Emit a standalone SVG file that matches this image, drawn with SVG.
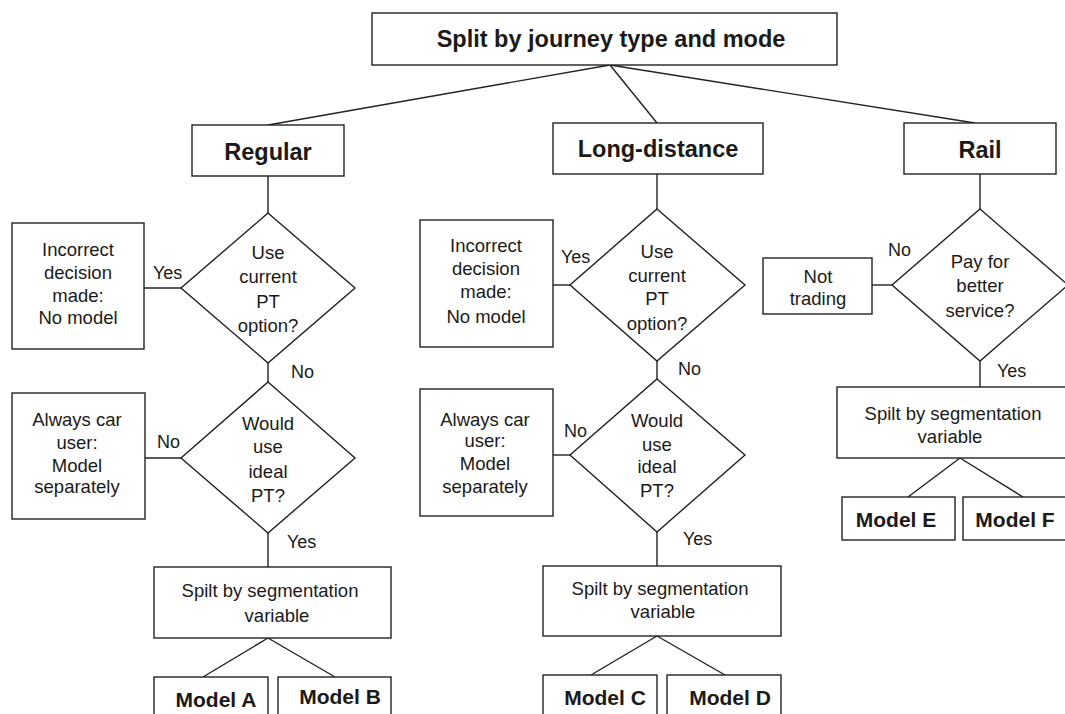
<svg xmlns="http://www.w3.org/2000/svg" width="1065" height="714" viewBox="0 0 1065 714">
<style>
.box{fill:#fff;stroke:#222;stroke-width:1.4}
.ln{stroke:#222;stroke-width:1.4;fill:none}
.t{font-family:"Liberation Sans",Arial,sans-serif;font-size:18.5px;fill:#1a1a1a;text-anchor:middle}
.lb{font-family:"Liberation Sans",Arial,sans-serif;font-size:18px;fill:#1a1a1a}
.h{font-family:"Liberation Sans",Arial,sans-serif;font-size:23.5px;font-weight:bold;fill:#1a1a1a;text-anchor:middle}
.m{font-family:"Liberation Sans",Arial,sans-serif;font-size:21px;font-weight:bold;fill:#1a1a1a;text-anchor:middle}
</style>
<rect width="1065" height="714" fill="#fff"/>
<g id="connectors">
<line class="ln" x1="610" y1="65" x2="268" y2="125"/>
<line class="ln" x1="610" y1="65" x2="657" y2="123"/>
<line class="ln" x1="610" y1="65" x2="975" y2="123"/>
<line class="ln" x1="268" y1="176" x2="268" y2="213"/>
<line class="ln" x1="144" y1="288" x2="181" y2="288"/>
<line class="ln" x1="268" y1="363" x2="268" y2="382"/>
<line class="ln" x1="145" y1="458" x2="181" y2="458"/>
<line class="ln" x1="268" y1="533" x2="268" y2="567"/>
<line class="ln" x1="268" y1="638" x2="203" y2="677"/>
<line class="ln" x1="268" y1="638" x2="335" y2="677"/>
<line class="ln" x1="657" y1="174" x2="657" y2="209"/>
<line class="ln" x1="553" y1="285" x2="570" y2="285"/>
<line class="ln" x1="657" y1="361" x2="657" y2="379"/>
<line class="ln" x1="553" y1="455" x2="570" y2="455"/>
<line class="ln" x1="657" y1="532" x2="657" y2="566"/>
<line class="ln" x1="657" y1="636" x2="591" y2="675"/>
<line class="ln" x1="657" y1="636" x2="725" y2="675"/>
<line class="ln" x1="980" y1="174" x2="980" y2="209"/>
<line class="ln" x1="872" y1="285" x2="892" y2="285"/>
<line class="ln" x1="980" y1="361" x2="980" y2="387"/>
<line class="ln" x1="960" y1="458" x2="908" y2="497"/>
<line class="ln" x1="960" y1="458" x2="1023" y2="497"/>
<text class="lb" x="153" y="279">Yes</text>
<text class="lb" x="291" y="378">No</text>
<text class="lb" x="157" y="448">No</text>
<text class="lb" x="287" y="548">Yes</text>
<text class="lb" x="561" y="263">Yes</text>
<text class="lb" x="678" y="375">No</text>
<text class="lb" x="564" y="437">No</text>
<text class="lb" x="683" y="545">Yes</text>
<text class="lb" x="888" y="256">No</text>
<text class="lb" x="997" y="377">Yes</text>
</g>
<g id="root">
<rect class="box" x="372" y="13" width="465" height="52"/>
<text class="h" x="611" y="47">Split by journey type and mode</text>
</g>
<g id="regular">
<rect class="box" x="192" y="125" width="152" height="51"/>
<text class="h" x="268" y="160">Regular</text>
</g>
<g id="longdistance">
<rect class="box" x="553" y="123" width="210" height="51"/>
<text class="h" x="658" y="157">Long-distance</text>
</g>
<g id="rail">
<rect class="box" x="904" y="123" width="152" height="51"/>
<text class="h" x="980" y="158">Rail</text>
</g>
<g id="reg-q1">
<polygon class="box" points="268,213 355,288 268,363 181,288"/>
<text class="t" x="268" y="259">Use</text>
<text class="t" x="268" y="283">current</text>
<text class="t" x="268" y="308">PT</text>
<text class="t" x="268" y="332">option?</text>
</g>
<g id="reg-incorrect">
<rect class="box" x="12" y="223" width="132" height="126"/>
<text class="t" x="78" y="256">Incorrect</text>
<text class="t" x="78" y="279">decision</text>
<text class="t" x="78" y="302">made:</text>
<text class="t" x="78" y="324">No model</text>
</g>
<g id="reg-q2">
<polygon class="box" points="268,382 355,458 268,533 181,458"/>
<text class="t" x="268" y="430">Would</text>
<text class="t" x="268" y="453">use</text>
<text class="t" x="268" y="478">ideal</text>
<text class="t" x="268" y="502">PT?</text>
</g>
<g id="reg-car">
<rect class="box" x="12" y="393" width="133" height="126"/>
<text class="t" x="77" y="426">Always car</text>
<text class="t" x="77" y="449">user:</text>
<text class="t" x="77" y="472">Model</text>
<text class="t" x="77" y="493">separately</text>
</g>
<g id="reg-split">
<rect class="box" x="154" y="567" width="237" height="71"/>
<text class="t" x="270" y="597">Spilt by segmentation</text>
<text class="t" x="277" y="622">variable</text>
</g>
<g id="model-a">
<rect class="box" x="154" y="677" width="114" height="45"/>
<text class="m" x="216" y="707">Model A</text>
</g>
<g id="model-b">
<rect class="box" x="278" y="677" width="113" height="45"/>
<text class="m" x="340" y="704">Model B</text>
</g>
<g id="ld-q1">
<polygon class="box" points="657,209 745,285 657,361 570,285"/>
<text class="t" x="657" y="258">Use</text>
<text class="t" x="657" y="282">current</text>
<text class="t" x="657" y="305">PT</text>
<text class="t" x="657" y="330">option?</text>
</g>
<g id="ld-incorrect">
<rect class="box" x="420" y="220" width="133" height="127"/>
<text class="t" x="486" y="252">Incorrect</text>
<text class="t" x="486" y="275">decision</text>
<text class="t" x="486" y="298">made:</text>
<text class="t" x="486" y="323">No model</text>
</g>
<g id="ld-q2">
<polygon class="box" points="657,379 745,455 657,532 570,455"/>
<text class="t" x="657" y="427">Would</text>
<text class="t" x="657" y="451">use</text>
<text class="t" x="657" y="473">ideal</text>
<text class="t" x="657" y="497">PT?</text>
</g>
<g id="ld-car">
<rect class="box" x="420" y="389" width="133" height="127"/>
<text class="t" x="485" y="426">Always car</text>
<text class="t" x="485" y="447">user:</text>
<text class="t" x="485" y="470">Model</text>
<text class="t" x="485" y="493">separately</text>
</g>
<g id="ld-split">
<rect class="box" x="543" y="566" width="238" height="70"/>
<text class="t" x="660" y="595">Spilt by segmentation</text>
<text class="t" x="663" y="618">variable</text>
</g>
<g id="model-c">
<rect class="box" x="543" y="675" width="114" height="47"/>
<text class="m" x="605" y="705">Model C</text>
</g>
<g id="model-d">
<rect class="box" x="667" y="675" width="114" height="47"/>
<text class="m" x="730" y="705">Model D</text>
</g>
<g id="rail-q">
<polygon class="box" points="980,209 1068,285 980,361 892,285"/>
<text class="t" x="980" y="268">Pay for</text>
<text class="t" x="980" y="292">better</text>
<text class="t" x="980" y="317">service?</text>
</g>
<g id="rail-not">
<rect class="box" x="763" y="258" width="109" height="56"/>
<text class="t" x="818" y="283">Not</text>
<text class="t" x="818" y="305">trading</text>
</g>
<g id="rail-split">
<rect class="box" x="837" y="387" width="240" height="71"/>
<text class="t" x="953" y="420">Spilt by segmentation</text>
<text class="t" x="950" y="443">variable</text>
</g>
<g id="model-e">
<rect class="box" x="842" y="497" width="113" height="43"/>
<text class="m" x="896" y="527">Model E</text>
</g>
<g id="model-f">
<rect class="box" x="963" y="497" width="114" height="43"/>
<text class="m" x="1015" y="527">Model F</text>
</g>
</svg>
